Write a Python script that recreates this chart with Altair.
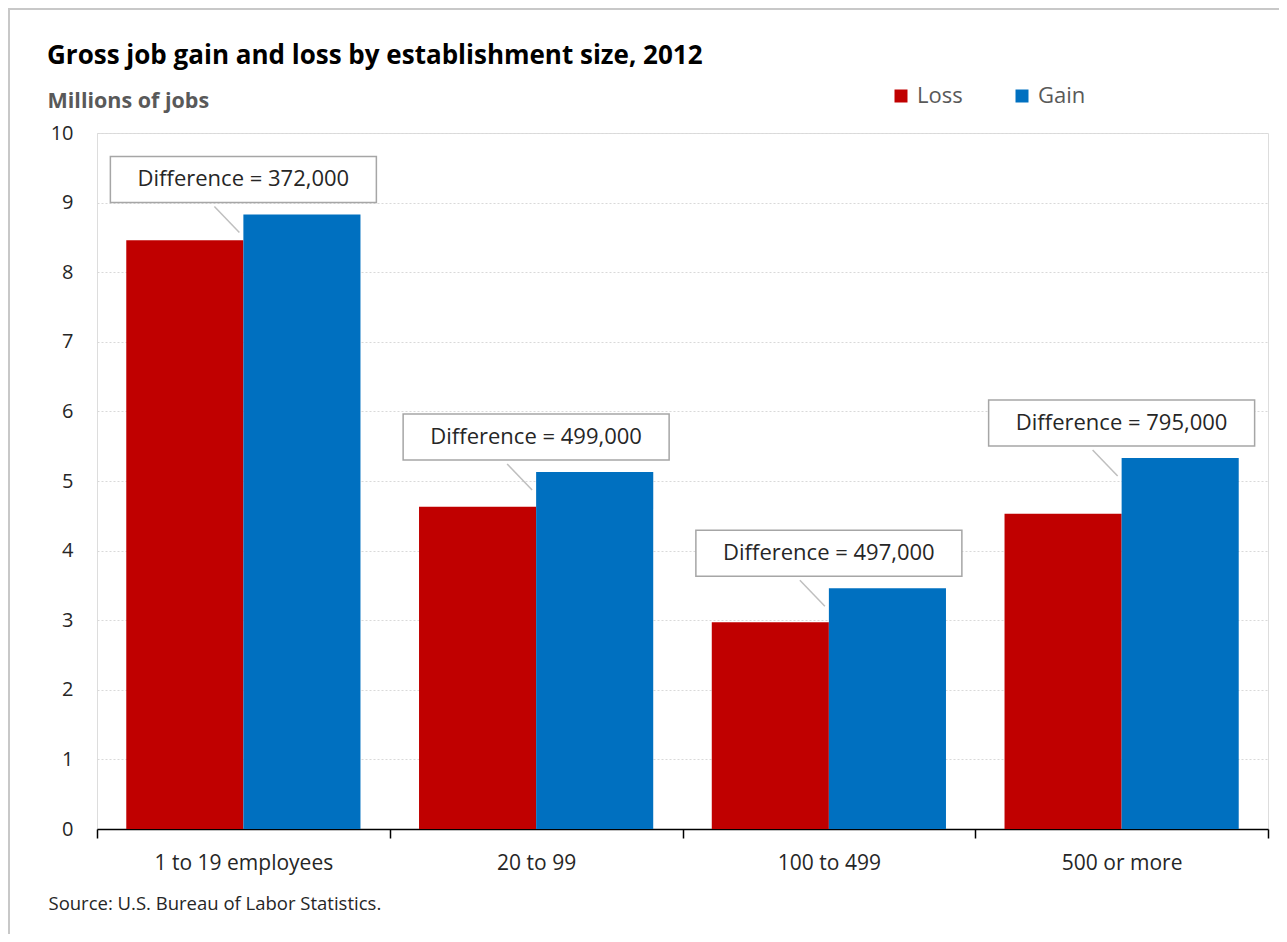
import altair as alt
import pandas as pd

categories = ["1 to 19 employees", "20 to 99", "100 to 499", "500 or more"]
loss = [8.46, 4.63, 2.97, 4.53]
gain = [8.83, 5.13, 3.46, 5.33]
differences = [
    "Difference = 372,000",
    "Difference = 499,000",
    "Difference = 497,000",
    "Difference = 795,000",
]
series = ["Loss", "Gain"]
colors = ["#C00000", "#0070C0"]
y_ticks = list(range(0, 11))
title_text = "Gross job gain and loss by establishment size, 2012"
source_text = "Source: U.S. Bureau of Labor Statistics."
y_title = "Millions of jobs"

rows = []
for c, l, g in zip(categories, loss, gain):
    rows.append({"size": c, "series": "Loss", "jobs": l})
    rows.append({"size": c, "series": "Gain", "jobs": g})
bars_df = pd.DataFrame(rows)
ann_df = pd.DataFrame({"size": categories, "gain": gain, "label": differences})

FONT = "Open Sans"
W, H = 1171, 696
PX_PER_UNIT = H / 10.0
BOX_H = 46

x_scale = alt.Scale(domain=categories, paddingInner=0, paddingOuter=0)
y_scale = alt.Scale(domain=[0, 10], nice=False)

x_axis = alt.Axis(
    labelAngle=0, tickBand="extent", ticks=True, tickSize=9, tickColor="black",
    tickWidth=1.5, domainColor="black", domainWidth=1.5, labelFontSize=21,
    labelColor="#262626", labelPadding=14, labelFont=FONT, grid=False,
    title=source_text, titleX=-49, titleY=80,
    titleAlign="left", titleBaseline="alphabetic", titleAngle=0, titleFont=FONT,
    titleFontSize=18.5, titleFontWeight="normal", titleColor="#262626",
)
y_axis = alt.Axis(
    values=y_ticks, format="d", title=y_title, titleAngle=0, titleX=-50, titleY=-26,
    titleAlign="left", titleBaseline="alphabetic", titleFontSize=21.5,
    titleFontWeight="bold", titleColor="#595959", titleFont=FONT,
    labelFontSize=20, labelColor="#262626", labelPadding=24, labelFont=FONT,
    ticks=False, domain=False, grid=True, gridColor="#d9d9d9", gridDash=[2, 2],
    gridWidth=1,
)
legend = alt.Legend(
    orient="none", legendX=793, legendY=-48, direction="horizontal", title=None,
    symbolType="square", symbolSize=169, symbolStrokeWidth=0, labelFontSize=22,
    labelColor="#595959", labelFont=FONT, columnPadding=48, labelOffset=5, padding=0,
)

bars = alt.Chart(bars_df).mark_bar().encode(
    x=alt.X("size:N", scale=x_scale, axis=x_axis, sort=categories, title=source_text),
    xOffset=alt.XOffset("series:N", scale=alt.Scale(domain=series, paddingInner=0, paddingOuter=0.25), sort=series),
    y=alt.Y("jobs:Q", scale=y_scale, axis=y_axis, title=y_title),
    color=alt.Color("series:N", scale=alt.Scale(domain=series, range=colors), legend=legend, sort=series),
)

boxes = alt.Chart(ann_df).transform_calculate(
    top=f"datum.gain + {BOX_H}/{PX_PER_UNIT}"
).mark_bar(
    width=266, color="white", stroke="#a6a6a6", strokeWidth=1.5, yOffset=-12, y2Offset=-12
).encode(
    x=alt.X("size:N", sort=categories),
    y=alt.Y("gain:Q"),
    y2="top:Q",
)

labels = alt.Chart(ann_df).mark_text(
    font=FONT, fontSize=22, color="#262626", baseline="middle", align="center",
    yOffset=-12 - BOX_H / 2,
).encode(
    x=alt.X("size:N", sort=categories),
    y=alt.Y("gain:Q"),
    text="label:N",
)

leaders = alt.Chart(ann_df).mark_rule(
    color="#bfbfbf", strokeWidth=1.5, xOffset=-29, x2Offset=-4, yOffset=-8, y2Offset=18
).encode(
    x=alt.X("size:N", sort=categories),
    x2="size:N",
    y=alt.Y("gain:Q"),
    y2="gain:Q",
)

one = pd.DataFrame({"t": [title_text]})
title = alt.Chart(one).mark_text(
    font=FONT, fontSize=26, fontWeight="bold", color="black", align="left",
    baseline="alphabetic",
).encode(x=alt.value(-50), y=alt.value(-69), text="t:N")

frame = alt.Chart(one).mark_rect(
    fillOpacity=0, stroke="#c8c8c8", strokeWidth=2
).encode(
    x=alt.value(-88), x2=alt.value(1400), y=alt.value(-124), y2=alt.value(1000)
)

chart = alt.layer(frame, bars, leaders, boxes, labels, title).properties(
    width=W, height=H,
    autosize=alt.AutoSizeParams(type="none"),
    padding={"left": 89, "top": 125, "right": 11, "bottom": 105},
).configure_view(stroke=None).configure(background="white")

chart.save("out.html", embed_options={"renderer": "svg", "actions": False})
